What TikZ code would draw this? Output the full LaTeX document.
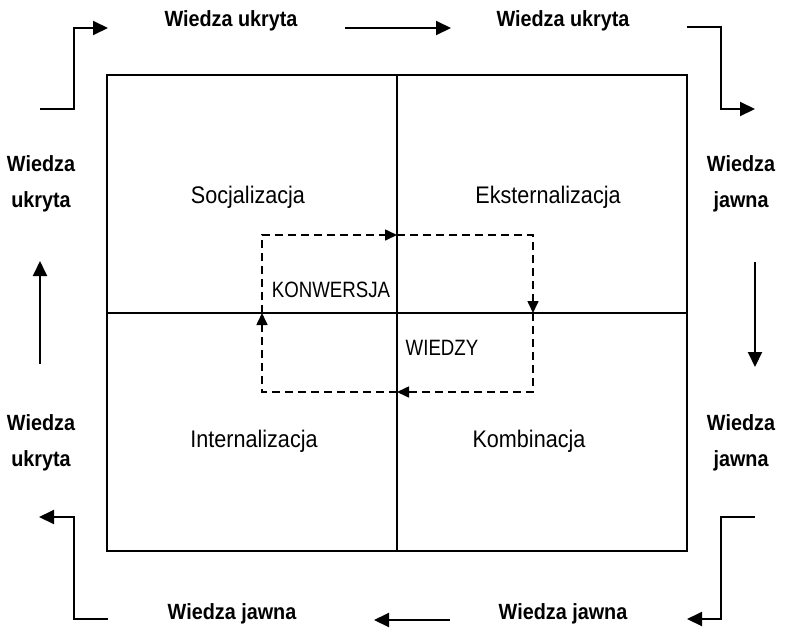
\documentclass[tikz,border=0pt]{standalone}
\usepackage{fontspec}
\setmainfont{Liberation Sans}
\newfontfamily\narrowfont[FakeStretch=0.9]{Liberation Sans}
\newfontfamily\capsfont[FakeStretch=0.84]{Liberation Sans}
\usetikzlibrary{arrows.meta}

\begin{document}
\begin{tikzpicture}[x=1pt,y=-1pt,
  frame/.style={line width=2pt},
  flow/.style={line width=2pt,-{Triangle[length=15pt,width=14pt]}},
  loop/.style={line width=1.6pt,dash pattern=on 8pt off 5pt,
    -{Triangle[length=12pt,width=11pt]}},
  side/.style={font=\narrowfont\bfseries\fontsize{22}{36}\selectfont,align=center,inner sep=0pt},
  cell/.style={font=\narrowfont\fontsize{24}{28}\selectfont,inner sep=0pt,anchor=base},
  caps/.style={font=\capsfont\fontsize{22.2}{26}\selectfont,inner sep=0pt,anchor=base}]
\useasboundingbox (0,0) rectangle (792,627);

% the four-field matrix
\node[draw,frame,minimum width=580pt,minimum height=476pt,inner sep=0pt] (box) at (397,313) {};
\draw[frame] (box.north) -- (box.south);
\draw[frame] (box.west) -- (box.east);

% field names
\node[cell] (soc) at (248,203) {Socjalizacja};
\node[cell] (eks) at (548,203) {Eksternalizacja};
\node[cell] (int) at (254,447) {Internalizacja};
\node[cell] (kom) at (529,447) {Kombinacja};
\node[caps] (konw) at (331,297) {KONWERSJA};
\node[caps] (wied) at (442,355) {WIEDZY};

% dashed conversion loop
\coordinate (c1) at (262,235);
\coordinate (c2) at (533,235);
\coordinate (c3) at (533,392);
\coordinate (c4) at (262,392);
\coordinate (m1) at (397,235);
\coordinate (m2) at (533,313);
\coordinate (m3) at (397,392);
\coordinate (m4) at (262,313);
\draw[loop] (m4) -- (c1) -- (m1);
\draw[loop] (m1) -- (c2) -- (m2);
\draw[loop] (m2) -- (c3) -- (m3);
\draw[loop] (m3) -- (c4) -- (m4);

% labels around the matrix
\node[side,anchor=base] (t1) at (231,26) {Wiedza ukryta};
\node[side,anchor=base] (t2) at (563,26) {Wiedza ukryta};
\node[side,anchor=base] (b1) at (232,619) {Wiedza jawna};
\node[side,anchor=base] (b2) at (563,619) {Wiedza jawna};
\node[side] (l1) at (41,184) {Wiedza\\ukryta};
\node[side] (l2) at (41,443) {Wiedza\\ukryta};
\node[side] (r1) at (741,184) {Wiedza\\jawna};
\node[side] (r2) at (741,443) {Wiedza\\jawna};

% arrows of the knowledge cycle
\coordinate (a1s) at (40,109);  \coordinate (a1e) at (108,28);
\draw[flow] (a1s) -- (74,109) -- (74,28) -- (a1e);
\coordinate (a2s) at (345,28);  \coordinate (a2e) at (451,28);
\draw[flow] (a2s) -- (a2e);
\coordinate (a3s) at (687,27);  \coordinate (a3e) at (755,109);
\draw[flow] (a3s) -- (721,27) -- (721,109) -- (a3e);
\coordinate (a4s) at (755,262); \coordinate (a4e) at (755,367);
\draw[flow] (a4s) -- (a4e);
\coordinate (a5s) at (755,517); \coordinate (a5e) at (687,619);
\draw[flow] (a5s) -- (721,517) -- (721,619) -- (a5e);
\coordinate (a6s) at (450,620); \coordinate (a6e) at (374,620);
\draw[flow] (a6s) -- (a6e);
\coordinate (a7s) at (108,619); \coordinate (a7e) at (39,517);
\draw[flow] (a7s) -- (74,619) -- (74,517) -- (a7e);
\coordinate (a8s) at (40,364);  \coordinate (a8e) at (40,261);
\draw[flow] (a8s) -- (a8e);
\end{tikzpicture}
\end{document}
